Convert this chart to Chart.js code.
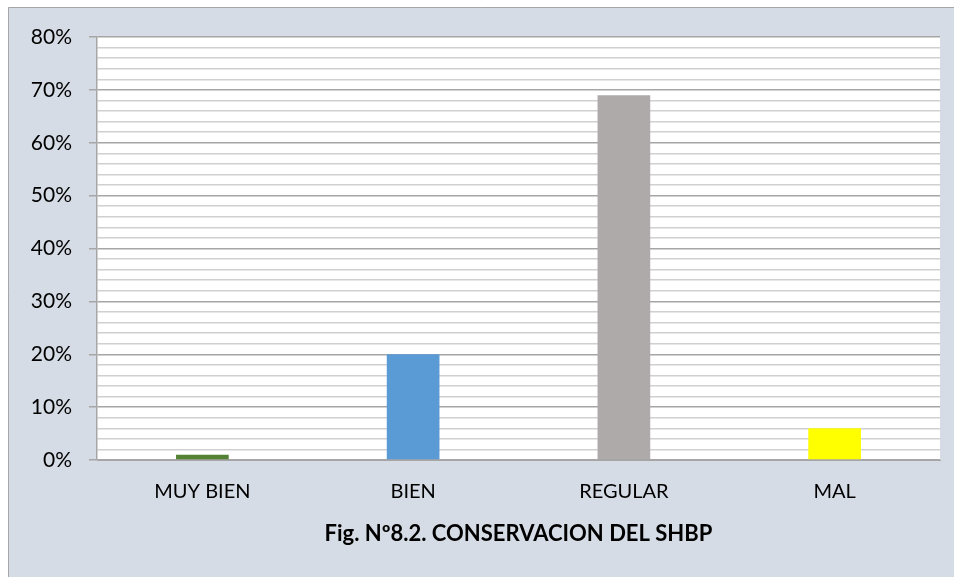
<!DOCTYPE html>
<html>
<head>
<meta charset="utf-8">
<script src="https://cdn.jsdelivr.net/npm/chart.js@4"></script>
<style>
  html, body { margin: 0; padding: 0; background: #ffffff; }
  #wrap { width: 954px; height: 577px; }
</style>
</head>
<body>
<div id="wrap"><canvas id="chartConservacion"></canvas></div>
<script>
var categories = ['MUY BIEN', 'BIEN', 'REGULAR', 'MAL'];
var percentages = [1, 20, 69, 6];
var barColors = ['#548235', '#5b9bd5', '#aeaaaa', '#ffff00'];
var yTicks = [0, 10, 20, 30, 40, 50, 60, 70, 80];
var chartTitle = 'Fig. Nº8.2. CONSERVACION DEL SHBP';

// fondo gris azulado + area blanca del grafico
const backgroundPlugin = {
    id: 'backgroundPlugin',
    beforeDraw: function (chart) {
        const ctx = chart.ctx;
        const area = chart.chartArea;
        ctx.save();
        ctx.fillStyle = '#ffffff';
        ctx.fillRect(0, 0, chart.width, chart.height);
        ctx.fillStyle = '#d6dce5';
        ctx.fillRect(8, 7, chart.width - 8, chart.height - 7);
        ctx.strokeStyle = '#a6a6a6';
        ctx.lineWidth = 1;
        ctx.beginPath();
        ctx.moveTo(8.5, chart.height);
        ctx.lineTo(8.5, 7.5);
        ctx.lineTo(chart.width, 7.5);
        ctx.stroke();
        ctx.fillStyle = '#ffffff';
        ctx.fillRect(area.left, area.top, area.right - area.left, area.bottom - area.top);
        ctx.restore();
    }
};

const conservacion = new Chart(
    document.getElementById('chartConservacion'), {
        type: 'bar',
        data: {
            labels: categories,
            datasets: [{
                data: percentages,
                backgroundColor: barColors,
                borderWidth: 0,
                barPercentage: 0.5,
                categoryPercentage: 0.5
            }]
        },
        options: {
            responsive: true,
            maintainAspectRatio: false,
            animation: false,
            layout: {
                padding: { left: 0, right: 14, top: 37, bottom: 0 }
            },
            plugins: {
                legend: { display: false },
                tooltip: { enabled: false }
            },
            scales: {
                x: {
                    grid: { display: false, drawTicks: false },
                    border: { display: true, color: '#a6a6a6', width: 1 },
                    ticks: {
                        color: '#000000',
                        padding: 20,
                        font: { family: 'Lato', size: 20 }
                    },
                    title: {
                        display: true,
                        text: chartTitle,
                        color: '#000000',
                        font: { family: 'Lato', size: 22, weight: 'bold' },
                        padding: { top: 4, bottom: 30 }
                    },
                    afterFit: function (scale) {
                        scale.height = 117;
                    }
                },
                y: {
                    min: 0,
                    max: 80,
                    afterBuildTicks: function (scale) {
                        var t = [];
                        for (var i = 0; i <= 40; i++) {
                            t.push({ value: i * 2 });
                        }
                        scale.ticks = t;
                    },
                    grid: {
                        color: function (c) {
                            return yTicks.indexOf(c.tick.value) >= 0 ? '#a6a6a6' : '#d0d0d0';
                        },
                        tickColor: function (c) {
                            return yTicks.indexOf(c.tick.value) >= 0 ? '#a6a6a6' : 'rgba(0,0,0,0)';
                        },
                        tickLength: 8,
                        lineWidth: 1.5
                    },
                    border: { display: true, color: '#a6a6a6', width: 1.5 },
                    ticks: {
                        color: '#000000',
                        padding: 17,
                        autoSkip: false,
                        font: { family: 'Lato', size: 21 },
                        callback: function (value) {
                            return yTicks.indexOf(value) >= 0 ? value + '%' : '';
                        }
                    },
                    afterFit: function (scale) {
                        scale.width = 97;
                    }
                }
            }
        },
        plugins: [backgroundPlugin]
    }
);
</script>
</body>
</html>
